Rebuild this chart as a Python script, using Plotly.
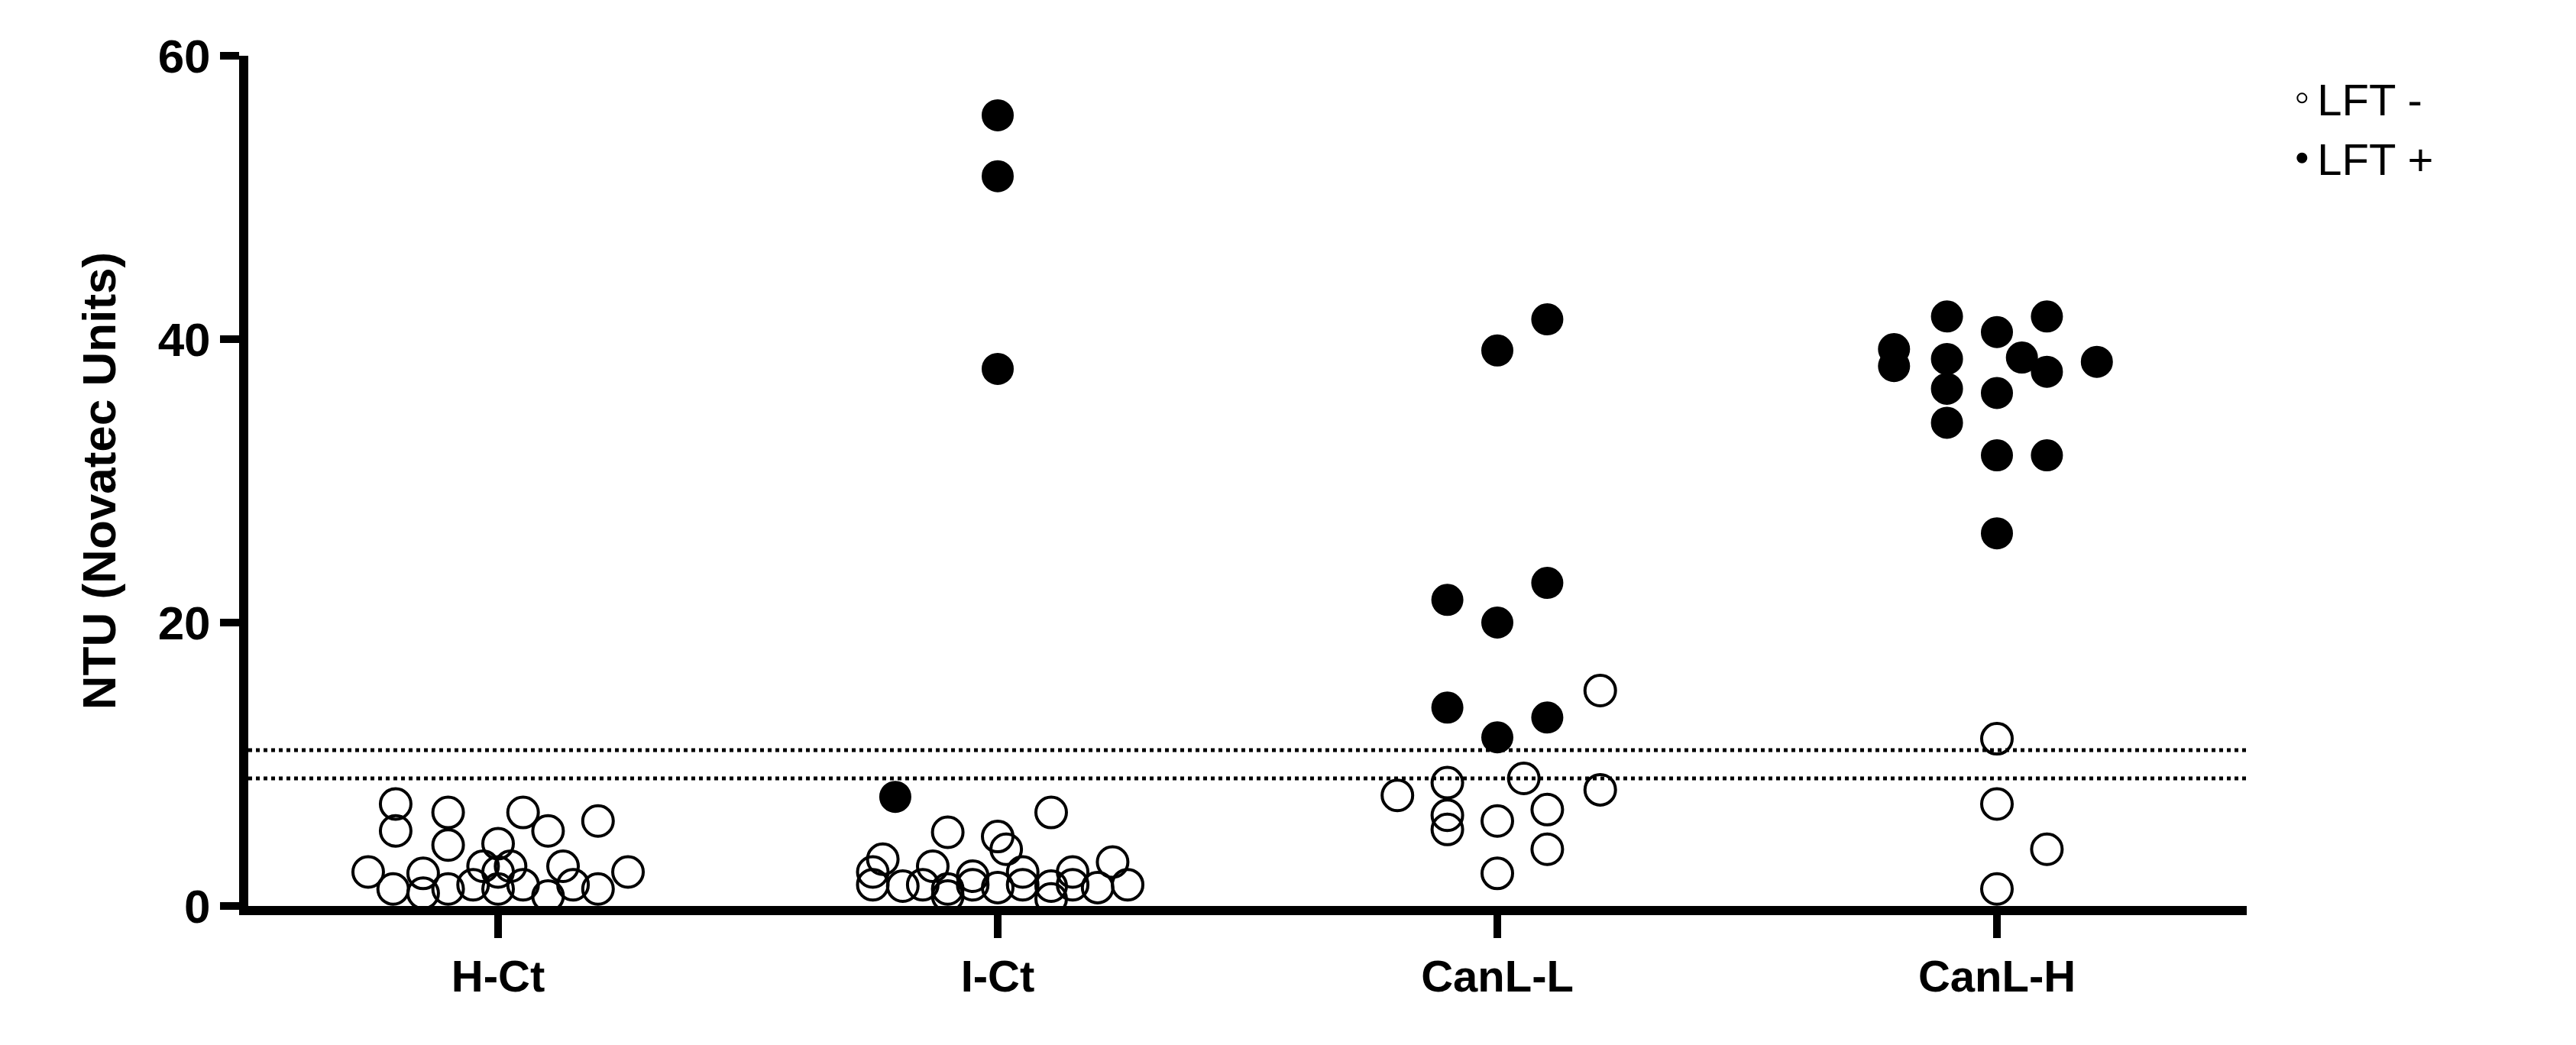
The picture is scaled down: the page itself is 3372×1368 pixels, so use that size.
import plotly.graph_objects as go

categories = ['H-Ct', 'I-Ct', 'CanL-L', 'CanL-H']

# LFT - (open) values and swarm offsets per group
neg_values = [
    [7.2, 5.3, 6.6, 4.3, 6.6, 5.3, 6.0, 4.4, 2.4, 2.3, 2.8, 2.8, 2.8, 2.4,
     1.2, 1.2, 1.5, 1.2, 1.5, 1.5, 1.2, 0.9, 0.7, 2.4],
    [5.2, 4.9, 4.0, 6.6, 3.3, 2.8, 3.1, 1.5, 1.4, 1.5, 1.2, 1.5, 1.3, 1.5,
     1.4, 1.5, 1.3, 1.5, 0.7, 0.5, 2.1, 2.4, 2.4, 2.4],
    [15.2, 8.7, 9.0, 7.8, 8.2, 6.4, 5.4, 6.0, 6.8, 4.0, 2.3],
    [11.8, 7.2, 4.0, 1.2],
]
neg_offsets = [
    [-0.205, -0.205, -0.10, -0.10, 0.05, 0.10, 0.20, 0.0, -0.26, -0.15, -0.03, 0.025, 0.13, 0.26,
     -0.21, -0.10, -0.05, 0.0, 0.05, 0.15, 0.20, -0.15, 0.10, 0.0],
    [-0.10, 0.0, 0.017, 0.107, -0.23, -0.13, 0.23, -0.25, -0.19, -0.15, -0.10, -0.05, 0.0, 0.05,
     0.107, 0.15, 0.20, 0.26, -0.10, 0.107, -0.05, 0.05, 0.15, -0.25],
    [0.206, -0.10, 0.053, -0.20, 0.206, -0.10, -0.10, 0.0, 0.10, 0.10, 0.0],
    [0.0, 0.0, 0.10, 0.0],
]

# LFT + (filled)
pos_values = [
    [],
    [55.8, 51.5, 37.9, 7.7],
    [41.4, 39.2, 21.6, 22.8, 20.0, 14.0, 13.3, 11.9],
    [41.6, 41.6, 40.5, 39.3, 38.1, 38.6, 38.7, 37.7, 38.4, 36.5, 36.2, 34.1, 31.8, 31.8, 26.3],
]
pos_offsets = [
    [],
    [0.0, 0.0, 0.0, -0.205],
    [0.10, 0.0, -0.10, 0.10, 0.0, -0.10, 0.10, 0.0],
    [-0.10, 0.10, 0.0, -0.206, -0.206, -0.10, 0.05, 0.10, 0.20, -0.10, 0.0, -0.10, 0.0, 0.10, 0.0],
]

cutoffs = [9, 11]


def flatten(values, offsets):
    xs, ys = [], []
    for i, (vals, offs) in enumerate(zip(values, offsets)):
        xs += [i + o for o in offs]
        ys += vals
    return xs, ys


fig = go.Figure()

nx, ny = flatten(neg_values, neg_offsets)
fig.add_trace(go.Scatter(x=nx, y=ny, mode='markers', name='LFT -',
                         marker=dict(size=40, color='rgba(255,255,255,0)',
                                     line=dict(color='black', width=4))))
px_, py_ = flatten(pos_values, pos_offsets)
fig.add_trace(go.Scatter(x=px_, y=py_, mode='markers', name='LFT +',
                         marker=dict(size=40, color='black',
                                     line=dict(color='black', width=2))))

for c in cutoffs:
    fig.add_shape(type='line', x0=-0.5, x1=3.5, y0=c, y1=c, xref='x', yref='y',
                  line=dict(color='black', width=5, dash='dot'))

fig.update_layout(
    width=3372, height=1368,
    paper_bgcolor='white', plot_bgcolor='white',
    margin=dict(l=317, r=439, t=65, b=190),
    font=dict(family='Liberation Sans', color='black'),
    legend=dict(x=1.02, y=0.99, xanchor='left', yanchor='top',
                font=dict(size=58), itemsizing='constant', tracegroupgap=30),
)
fig.update_xaxes(range=[-0.5, 3.5], tickvals=[0, 1, 2, 3], ticktext=categories,
                 showgrid=False, zeroline=False, showline=True, linewidth=12, linecolor='black',
                 ticks='outside', ticklen=30, tickwidth=10, tickcolor='black',
                 tickfont=dict(size=58, family='Liberation Sans', weight='bold'))
fig.update_yaxes(range=[0, 60], tickvals=[0, 20, 40, 60],
                 showgrid=False, zeroline=False, showline=True, linewidth=12, linecolor='black',
                 ticks='outside', ticklen=25, tickwidth=10, tickcolor='black',
                 tickfont=dict(size=62, family='Liberation Sans', weight='bold'),
                 title=dict(text='NTU (Novatec Units)', standoff=40,
                            font=dict(size=62, family='Liberation Sans', weight='bold')))

fig.write_html('out.html')
